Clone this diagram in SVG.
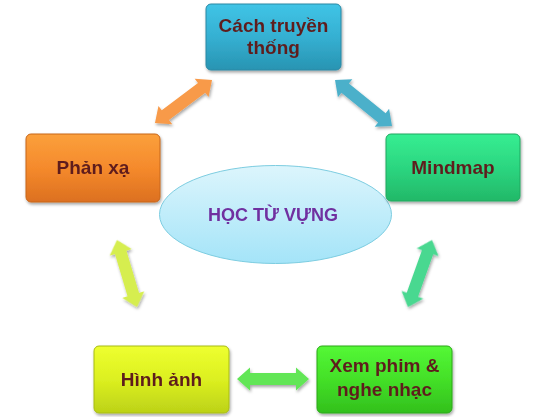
<svg xmlns="http://www.w3.org/2000/svg" width="550" height="417" viewBox="0 0 550 417">
<defs>
<style>
.lbl{font-family:"Liberation Sans","Noto Sans",Arial,sans-serif;font-weight:bold;font-size:19px;fill:#5e1f1f;text-anchor:middle}
.ctr{font-family:"Liberation Sans","Noto Sans",Arial,sans-serif;font-weight:bold;font-size:18px;fill:#7030a0;text-anchor:middle}
.box{stroke-width:1}
</style>
<filter id="sh" x="-10%" y="-10%" width="125%" height="130%">
<feDropShadow dx="1" dy="2" stdDeviation="1.5" flood-color="#000" flood-opacity="0.35"/>
</filter>
<linearGradient id="gBlue" x1="0" y1="0" x2="0" y2="1"><stop offset="0" stop-color="#40c4e6"/><stop offset="0.5" stop-color="#35b0d2"/><stop offset="1" stop-color="#2894b2"/></linearGradient>
<linearGradient id="gOrange" x1="0" y1="0" x2="0" y2="1"><stop offset="0" stop-color="#fba03c"/><stop offset="0.5" stop-color="#f58a2c"/><stop offset="1" stop-color="#dc7020"/></linearGradient>
<linearGradient id="gMint" x1="0" y1="0" x2="0" y2="1"><stop offset="0" stop-color="#36ee92"/><stop offset="0.5" stop-color="#2cd680"/><stop offset="1" stop-color="#22b868"/></linearGradient>
<linearGradient id="gYellow" x1="0" y1="0" x2="0" y2="1"><stop offset="0" stop-color="#eeff30"/><stop offset="0.5" stop-color="#dcf020"/><stop offset="1" stop-color="#bcd218"/></linearGradient>
<linearGradient id="gLime" x1="0" y1="0" x2="0" y2="1"><stop offset="0" stop-color="#54f836"/><stop offset="0.5" stop-color="#44e028"/><stop offset="1" stop-color="#32c01c"/></linearGradient>
<linearGradient id="gEll" x1="0" y1="0" x2="0" y2="1"><stop offset="0" stop-color="#dcf5fc"/><stop offset="1" stop-color="#a4e4f8"/></linearGradient>
</defs>
<rect width="550" height="417" fill="#fff"/>

<g id="connectors" filter="url(#sh)">
<path transform="translate(183.5,101.5) rotate(-37)" fill="#f89a48" d="M-35.7,0 L-22.7,-11.5 L-22.7,-6 L22.7,-6 L22.7,-11.5 L35.7,0 L22.7,11.5 L22.7,6 L-22.7,6 L-22.7,11.5 Z"/>
<path transform="translate(363.5,103) rotate(38.9)" fill="#4cb0ca" d="M-36.6,0 L-23.6,-11.5 L-23.6,-6 L23.6,-6 L23.6,-11.5 L36.6,0 L23.6,11.5 L23.6,6 L-23.6,6 L-23.6,11.5 Z"/>
<path transform="translate(420,273.5) rotate(109.7)" fill="#48d890" d="M-35.6,0 L-22.6,-11.5 L-22.6,-6 L22.6,-6 L22.6,-11.5 L35.6,0 L22.6,11.5 L22.6,6 L-22.6,6 L-22.6,11.5 Z"/>
<path transform="translate(127,273.5) rotate(73.4)" fill="#d6ee50" d="M-35,0 L-22,-11.5 L-22,-6 L22,-6 L22,-11.5 L35,0 L22,11.5 L22,6 L-22,6 L-22,11.5 Z"/>
<path transform="translate(273,379)" fill="#62e656" d="M-36,0 L-23,-11.5 L-23,-6 L23,-6 L23,-11.5 L36,0 L23,11.5 L23,6 L-23,6 L-23,11.5 Z"/>
</g>

<g id="center">
<ellipse cx="275.5" cy="214.5" rx="116" ry="49" fill="url(#gEll)" stroke="#7ccce0" stroke-width="1"/>
<text class="ctr" x="273" y="221">HỌC TỪ VỰNG</text>
</g>

<g id="node-top" filter="url(#sh)">
<rect class="box" x="206" y="4" width="135" height="66" rx="5" fill="url(#gBlue)" stroke="#2a88a4"/>
<text class="lbl" x="273.5" y="32">Cách truyền</text>
<text class="lbl" x="273.5" y="54">thống</text>
</g>

<g id="node-phanxa" filter="url(#sh)">
<rect class="box" x="26" y="134" width="134" height="68" rx="5" fill="url(#gOrange)" stroke="#c8661c"/>
<text class="lbl" x="93" y="174">Phản xạ</text>
</g>

<g id="node-mindmap" filter="url(#sh)">
<rect class="box" x="386" y="134" width="134" height="67" rx="5" fill="url(#gMint)" stroke="#20a860"/>
<text class="lbl" x="453" y="174">Mindmap</text>
</g>

<g id="node-hinhanh" filter="url(#sh)">
<rect class="box" x="94" y="346" width="135" height="67" rx="5" fill="url(#gYellow)" stroke="#a8bc14"/>
<text class="lbl" x="161.5" y="386">Hình ảnh</text>
</g>

<g id="node-xemphim" filter="url(#sh)">
<rect class="box" x="317" y="346" width="135" height="67" rx="5" fill="url(#gLime)" stroke="#2aa818"/>
<text class="lbl" x="384.5" y="372">Xem phim &amp;</text>
<text class="lbl" x="384.5" y="396">nghe nhạc</text>
</g>
</svg>
